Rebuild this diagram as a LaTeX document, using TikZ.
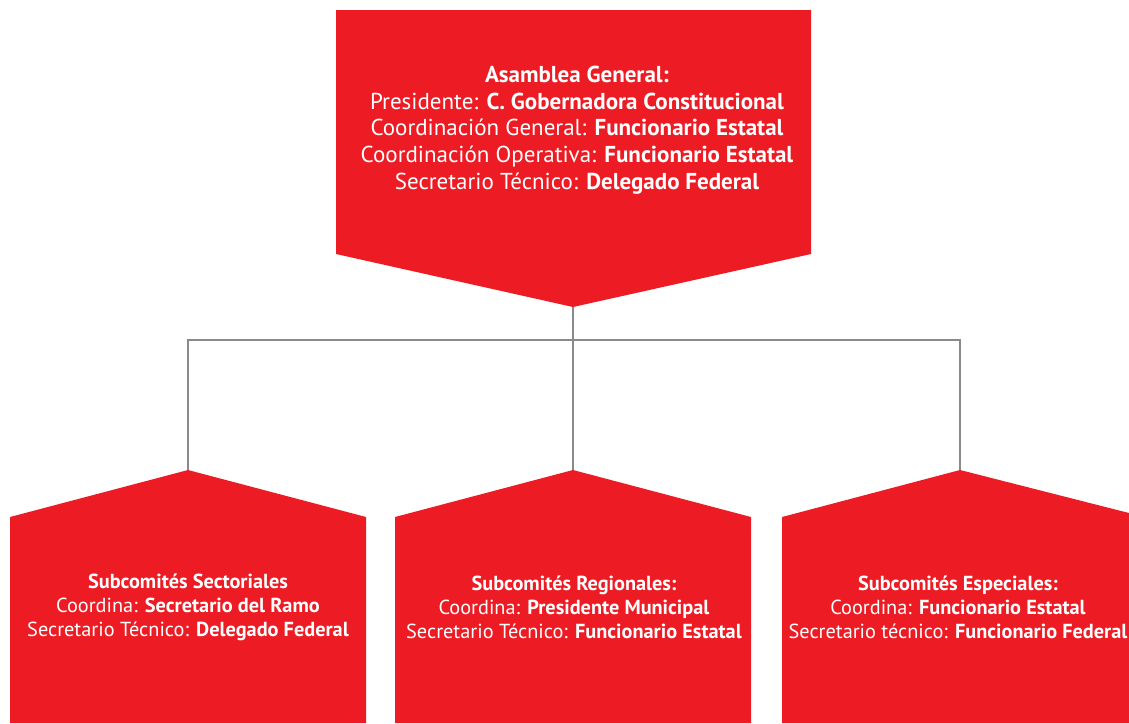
\documentclass[tikz,border=0pt]{standalone}
\usepackage{fontspec}
\setmainfont{PT Sans}
\definecolor{rojo}{HTML}{ED1C24}
\definecolor{gris}{HTML}{8A8A8A}
\tikzset{
  boxfill/.style={fill=rojo},
  conn/.style={draw=gris,line width=2.8pt},
  toptext/.style={text=white,align=center,font=\fontsize{23}{26.7}\selectfont},
  bottext/.style={text=white,align=center,font=\fontsize{20.3}{24}\selectfont},
}
\begin{document}
\begin{tikzpicture}[x=1pt,y=-1pt]
\useasboundingbox (0,0) rectangle (1129,723);
% shapes
\fill[boxfill] (336,10) -- (811,10) -- (811,254) -- (573,307) -- (336,254) -- cycle;
\fill[boxfill] (10,723) -- (10,517) -- (188,470) -- (366,517) -- (366,723) -- cycle;
\fill[boxfill] (395,723) -- (395,517) -- (573,470) -- (751,517) -- (751,723) -- cycle;
\fill[boxfill] (782,723) -- (782,517) -- (960,470) -- (1129,513) -- (1129,723) -- cycle;
% coordinates
\coordinate (topapex) at (573,307);
\coordinate (bus) at (573,340);
\coordinate (lapex) at (188,470);
\coordinate (mapex) at (573,470);
\coordinate (rapex) at (960,470);
% connectors
\draw[conn] (topapex) -- (bus);
\draw[conn] (bus) -| (lapex);
\draw[conn] (bus) -| (rapex);
\draw[conn] (bus) -- (mapex);
% texts
\node[toptext] (asamblea) at (577,130) {\textbf{Asamblea General:}\\
Presidente: \textbf{C. Gobernadora Constitucional}\\
Coordinación General: \textbf{Funcionario Estatal}\\
Coordinación Operativa: \textbf{Funcionario Estatal}\\
Secretario Técnico: \textbf{Delegado Federal}};
\node[bottext] (sectoriales) at (188,607) {\textbf{Subcomités Sectoriales}\\
Coordina: \textbf{Secretario del Ramo}\\
Secretario Técnico: \textbf{Delegado Federal}};
\node[bottext] (regionales) at (574,607) {\textbf{Subcomités Regionales:}\\
Coordina: \textbf{Presidente Municipal}\\
Secretario Técnico: \textbf{Funcionario Estatal}};
\node[bottext] (especiales) at (958,607) {\textbf{Subcomités Especiales:}\\
Coordina: \textbf{Funcionario Estatal}\\
Secretario técnico: \textbf{Funcionario Federal}};
\end{tikzpicture}
\end{document}
